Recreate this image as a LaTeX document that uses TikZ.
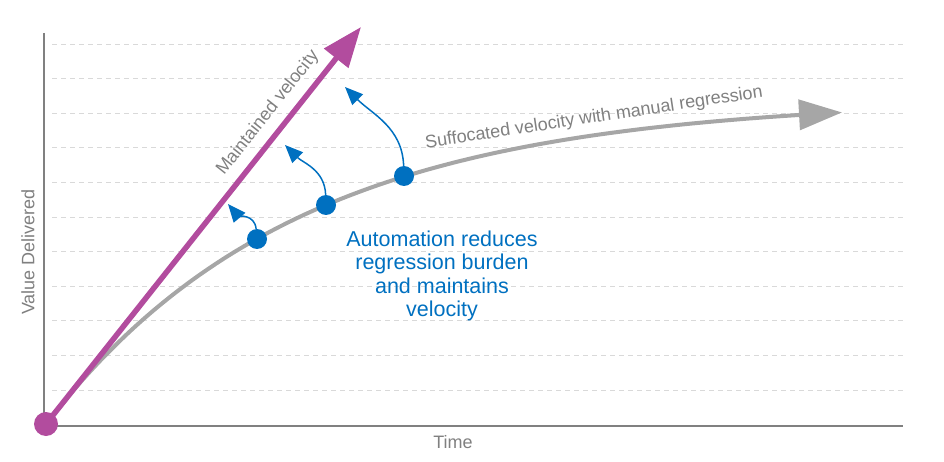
\documentclass[tikz,border=0pt]{standalone}
\usepackage{fontspec}
\setmainfont{Liberation Sans}
\usetikzlibrary{arrows.meta,positioning}
\definecolor{velmagenta}{RGB}{178,76,158}
\definecolor{suffgray}{RGB}{166,166,166}
\definecolor{txtgray}{RGB}{128,128,128}
\definecolor{gridgray}{RGB}{217,217,217}
\definecolor{autoblue}{RGB}{0,112,192}

\begin{document}
\begin{tikzpicture}[x=1pt, y=1pt,
  axisline/.style={line width=2pt, color=txtgray},
  gridline/.style={dash pattern=on 5pt off 4pt, line width=0.8pt, color=gridgray},
  maint/.style={-{Triangle[length=40pt, width=30pt]}, line width=5.5pt, color=velmagenta},
  suff/.style={-{Triangle[length=43pt, width=30pt]}, line width=4pt, color=suffgray},
  push/.style={-{Triangle[length=18pt, width=15pt]}, line width=1.5pt, color=autoblue},
  odot/.style={circle, fill=velmagenta, minimum size=24pt, inner sep=0pt},
  bdot/.style={circle, fill=autoblue, minimum size=20pt, inner sep=0pt},
  lbl/.style={font=\fontsize{18}{20}\selectfont, text=txtgray, inner sep=0pt},
  note/.style={font=\fontsize{21.5}{23.5}\selectfont, text=autoblue, align=center, inner sep=0pt},
]
\useasboundingbox (0,0) rectangle (944,461);

% ─── Dashed grid lines ───
\foreach \k in {0,...,10}
  \draw[gridline] (52,{417-34.6*\k}) -- (903,{417-34.6*\k});

% ─── Axes ───
\coordinate (ytop) at (44,428);
\coordinate (corner) at (44,35);
\coordinate (xend) at (903,35);
\draw[axisline] (ytop) -- (corner) -- (xend);

% ─── Arrow tips and targets ───
\coordinate (origin) at (46,37);
\coordinate (mtip) at (361,434);
\coordinate (p1) at (228,257);
\coordinate (p2) at (285,316);
\coordinate (p3) at (345,374);

% ─── Suffocated velocity curve (grey) ───
\draw[suff] plot[domain=46:842, samples=90] (\x, {37+325*(1-exp(-(\x-46)/250))});

% ─── Maintained velocity (magenta) ───
\draw[maint] (origin) -- (mtip);
\node[odot] (start) at (origin) {};

% ─── Regression points on the curve ───
\node[bdot] (d1) at (257,222) {};
\node[bdot] (d2) at (326,256) {};
\node[bdot] (d3) at (404,285) {};

% ─── Automation pushes back up ───
\draw[push] (d1) to[out=95, in=-50] (p1);
\draw[push] (d2) to[out=92, in=-45] (p2);
\draw[push] (d3) to[out=92, in=-45] (p3);

% ─── Labels ───
\node[lbl, rotate=51.6] (maintlbl) at (268,348) {Maintained velocity};
\node[lbl, rotate=8.6] (sufflbl) at (594,343) {Suffocated velocity with manual regression};
\node[note] (autonote) at (442,185) {Automation reduces\\regression burden\\and maintains\\velocity};
\node[lbl, rotate=90] (ylbl) at (28,209) {Value Delivered};
\node[lbl] (xlbl) at (453,19) {Time};

\end{tikzpicture}
\end{document}
